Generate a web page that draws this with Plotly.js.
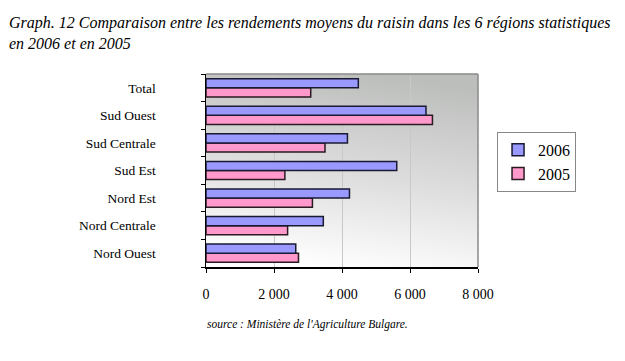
<!DOCTYPE html>
<html><head><meta charset="utf-8">
<script src="https://cdn.plot.ly/plotly-3.0.1.min.js"></script>
<style>body{margin:0;background:#fff}#c{width:625px;height:361px}</style>
</head><body><div id="c"></div>
<script>
const categories = ["Nord Ouest","Nord Centrale","Nord Est","Sud Est","Sud Centrale","Sud Ouest","Total"];
const y2006 = [2640, 3450, 4220, 5610, 4160, 6470, 4480];
const y2005 = [2720, 2400, 3130, 2320, 3500, 6660, 3080];
const xTicks = [0, 2000, 4000, 6000, 8000];
const xTickText = ["0", "2 000", "4 000", "6 000", "8 000"];

const grad = 'data:image/svg+xml;utf8,' + encodeURIComponent(
 '<svg xmlns="http://www.w3.org/2000/svg" width="272" height="194" preserveAspectRatio="none">' +
 '<defs><linearGradient id="g" x1="0.6" y1="0" x2="0.4" y2="1">' +
 '<stop offset="0" stop-color="#bcbebc"/><stop offset="0.5" stop-color="#dcdcdc"/><stop offset="1" stop-color="#ffffff"/>' +
 '</linearGradient></defs><rect width="272" height="194" fill="url(#g)"/></svg>');

const serif = "Liberation Serif";
const traces = [
 {type:"bar", orientation:"h", name:"2005", y:categories, x:y2005,
  marker:{color:"#ff99cc", line:{color:"#2a1a22", width:1.5}}},
 {type:"bar", orientation:"h", name:"2006", y:categories, x:y2006,
  marker:{color:"#9999ff", line:{color:"#1a1a33", width:1.5}}}
];
const layout = {
 width:625, height:361,
 margin:{l:206, r:147, t:74, b:94},
 paper_bgcolor:"#ffffff", plot_bgcolor:"rgba(0,0,0,0)",
 barmode:"group", bargap:0.34, bargroupgap:0,
 font:{family:serif, color:"#000", size:13},
 showlegend:true,
 legend:{x:1.07, xanchor:"left", y:0.7, yanchor:"top", bgcolor:"#fff", bordercolor:"#888", borderwidth:1,
   font:{size:16, family:serif}, traceorder:"reversed", itemwidth:30, tracegroupgap:0,
   entrywidth:40},
 xaxis:{range:[0,8000], tickvals:xTicks, ticktext:xTickText, showgrid:true, gridcolor:"#c8c8c8", gridwidth:1,
   zeroline:false, showline:true, linecolor:"#000", linewidth:1.5, ticks:"outside", ticklen:4, tickcolor:"#000",
   ticklabelstandoff:10, tickfont:{size:14, family:serif}, fixedrange:true},
 yaxis:{type:"category", showgrid:false, showline:true, linecolor:"#000", linewidth:1.5, ticks:"outside", ticklen:4,
   tickson:"boundaries", tickcolor:"#000", ticklabelstandoff:46, tickfont:{size:13.5, family:serif}, fixedrange:true},
 images:[{source:grad, xref:"paper", yref:"paper", x:0, y:1, sizex:1, sizey:1, sizing:"stretch", layer:"below"}],
 shapes:[
  {type:"line", xref:"paper", yref:"paper", x0:0, x1:1, y0:1, y1:1, line:{color:"#8a8a8a", width:1.5}},
  {type:"line", xref:"paper", yref:"paper", x0:1, x1:1, y0:0, y1:1, line:{color:"#8a8a8a", width:1.5}}
 ],
 annotations:[
  {xref:"paper", yref:"paper", x:-199/272, y:1+62/194, xanchor:"left", yanchor:"top", align:"left", showarrow:false,
   text:"Graph. 12 Comparaison entre les rendements moyens du raisin dans les 6 régions statistiques<br>en 2006 et en 2005",
   font:{family:serif, size:16, color:"#000", style:"italic"}},
  {xref:"paper", yref:"paper", x:(307-206)/272, y:-(325-267)/194, xanchor:"center", yanchor:"middle", showarrow:false,
   text:"source : Ministère de l'Agriculture Bulgare.", font:{family:serif, size:11.5, color:"#000", style:"italic"}}
 ]
};
Plotly.newPlot("c", traces, layout, {displayModeBar:false, staticPlot:true});
</script></body></html>
